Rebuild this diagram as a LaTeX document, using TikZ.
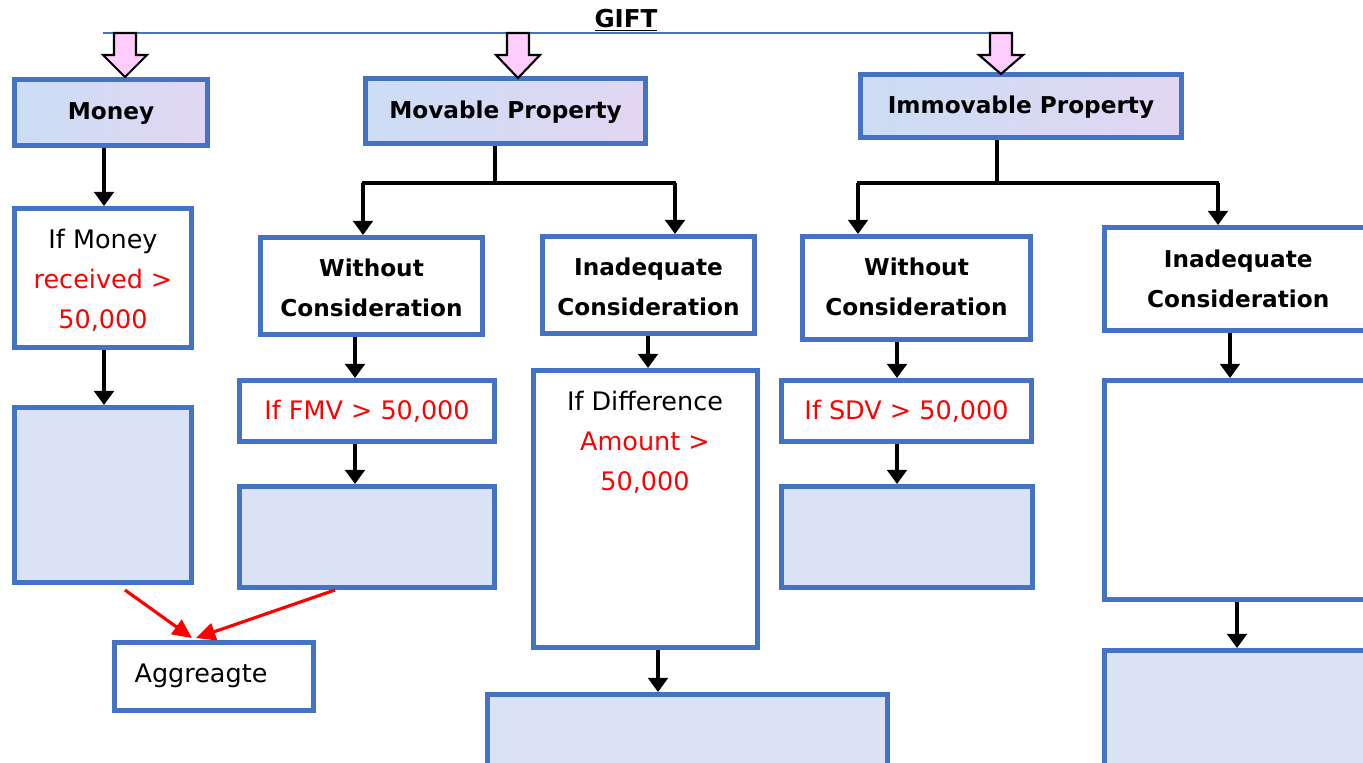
\documentclass[tikz,border=0pt]{standalone}
\usepackage{fontspec}
\setmainfont{DejaVu Sans}
\usetikzlibrary{fit,arrows.meta,calc}
\definecolor{bord}{HTML}{4472C4}
\definecolor{fillb}{HTML}{DAE3F3}
\definecolor{hdrA}{HTML}{CBDDF4}
\definecolor{hdrB}{HTML}{E2D6F3}
\definecolor{pinkf}{HTML}{FFCCFF}
\definecolor{txtred}{HTML}{FF0000}
\definecolor{giftline}{HTML}{4472C4}
\begin{document}
\begin{tikzpicture}[x=0.02cm,y=-0.02cm,
  box/.style={draw=bord,line width=2.8pt,inner sep=0pt},
  hdr/.style={box,left color=hdrA,right color=hdrB},
  fbox/.style={box,fill=fillb},
  btxt/.style={font=\fontsize{13.2}{22.8}\selectfont\bfseries,align=center,inner sep=0pt},
  rtxt/.style={font=\fontsize{14.5}{22.8}\selectfont,align=center,inner sep=0pt},
  tline/.style={line width=2.8pt,black},
  arr/.style={line width=2.8pt,black,-{Triangle[width=11pt,length=8pt]}},
  rarr/.style={line width=1.8pt,txtred,-{Triangle[width=10pt,length=11pt]}},
  barrow/.style={draw=black,line width=1.2pt,fill=pinkf,line join=miter}
]
\useasboundingbox (0,0) rectangle (1363,762);
\clip (0,0) rectangle (1363,762);

% title
\node[font=\fontsize{14}{15}\selectfont\bfseries,inner sep=0pt] (gift) at (626,20) {\underline{GIFT}};
\coordinate (gl) at (103,33);
\coordinate (gr) at (990,33);
\draw[giftline,line width=0.6pt] (gl) -- (gr);

% header boxes
\node[hdr,fit={(14.5,79.5) (207.5,145.5)}] (money) {};
\node[btxt] (moneyt) at ($(money.center)+(0,1)$) {Money};
\node[hdr,fit={(365.5,78.5) (645.5,143.5)}] (mov) {};
\node[btxt] (movt) at ($(mov.center)+(0,1)$) {Movable Property};
\node[hdr,fit={(860.5,74.5) (1181.5,137.5)}] (imm) {};
\node[btxt] (immt) at ($(imm.center)+(0,1)$) {Immovable Property};

% pink block arrows
\foreach \cx/\tip in {125/77,518/78,1001/74}{
  \draw[barrow] (\cx-11,33) -- (\cx+11,33) -- (\cx+11,55) -- (\cx+22,55)
     -- (\cx,\tip) -- (\cx-22,55) -- (\cx-11,55) -- cycle;
}

% Money column
\node[box,fit={(14.5,208.5) (191.5,347.5)}] (ifmoney) {};
\node[rtxt] (ifmoneyt) at ($(ifmoney.center)+(0,2)$) {If Money\\\textcolor{txtred}{received >}\\\textcolor{txtred}{50,000}};
\node[fbox,fit={(14.5,407.5) (191.5,582.5)}] (mres) {};
\draw[arr] (104,0 |- money.south) -- (104,0 |- ifmoney.north);
\draw[arr] (104,0 |- ifmoney.south) -- (104,0 |- mres.north);

% Movable column
\node[box,fit={(260.5,237.5) (482.5,334.5)}] (mwc) {};
\node[btxt] (mwct) at ($(mwc.center)+(0,2)$) {Without\\Consideration};
\node[box,fit={(542.5,236.5) (754.5,333.5)}] (mic) {};
\node[btxt] (mict) at ($(mic.center)+(0,2)$) {Inadequate\\Consideration};
\draw[tline] (495,0 |- mov.south) -- (495,183);
\draw[tline] (361.6,183) -- (676.4,183);
\draw[arr] (363,183) -- (363,0 |- mwc.north);
\draw[arr] (675,183) -- (675,0 |- mic.north);

\node[box,fit={(239.5,380.5) (494.5,441.5)}] (fmv) {};
\node[rtxt] (fmvt) at ($(fmv.center)+(0,0)$) {\textcolor{txtred}{If FMV > 50,000}};
\node[fbox,fit={(239.5,486.5) (494.5,587.5)}] (fres) {};
\draw[arr] (355,0 |- mwc.south) -- (355,0 |- fmv.north);
\draw[arr] (355,0 |- fmv.south) -- (355,0 |- fres.north);

\node[box,fit={(533.5,370.5) (757.5,647.5)}] (diff) {};
\node[rtxt,anchor=north] (difft) at (645,391) {If Difference\\\textcolor{txtred}{Amount >}\\\textcolor{txtred}{50,000}};
\node[fbox,fit={(487.5,694.5) (887.5,790)}] (dres) {};
\draw[arr] (648,0 |- mic.south) -- (648,0 |- diff.north);
\draw[arr] (658,0 |- diff.south) -- (658,0 |- dres.north);

% Aggregate
\node[box,fit={(114.5,642.5) (313.5,710.5)}] (agg) {};
\node[rtxt] (aggt) at (201,676) {Aggreagte};
\coordinate (r1) at (125,590);
\coordinate (r2) at (335,590);
\draw[rarr] (r1) -- ($(agg.north)+(-22,-2)$);
\draw[rarr] (r2) -- ($(agg.north)+(-18,-2)$);

% Immovable column
\node[box,fit={(802.5,236.5) (1030.5,339.5)}] (iwc) {};
\node[btxt] (iwct) at ($(iwc.center)+(0,-1)$) {Without\\Consideration};
\node[box,fit={(1104.5,227.5) (1372,330.5)}] (iic) {};
\node[btxt] (iict) at ($(iic.center)+(0,0)$) {Inadequate\\Consideration};
\draw[tline] (997,0 |- imm.south) -- (997,183);
\draw[tline] (856.6,183) -- (1219.4,183);
\draw[arr] (858,183) -- (858,0 |- iwc.north);
\draw[arr] (1218,183) -- (1218,0 |- iic.north);

\node[box,fit={(781.5,380.5) (1031.5,441.5)}] (sdv) {};
\node[rtxt] (sdvt) at ($(sdv.center)+(0,0)$) {\textcolor{txtred}{If SDV > 50,000}};
\node[fbox,fit={(781.5,486.5) (1032.5,587.5)}] (sres) {};
\draw[arr] (897,0 |- iwc.south) -- (897,0 |- sdv.north);
\draw[arr] (897,0 |- sdv.south) -- (897,0 |- sres.north);

\node[box,fit={(1104.5,380.5) (1372,599.5)}] (iemp) {};
\node[fbox,fit={(1104.5,650.5) (1372,790)}] (ires) {};
\draw[arr] (1230,0 |- iic.south) -- (1230,0 |- iemp.north);
\draw[arr] (1237,0 |- iemp.south) -- (1237,0 |- ires.north);
\end{tikzpicture}
\end{document}
